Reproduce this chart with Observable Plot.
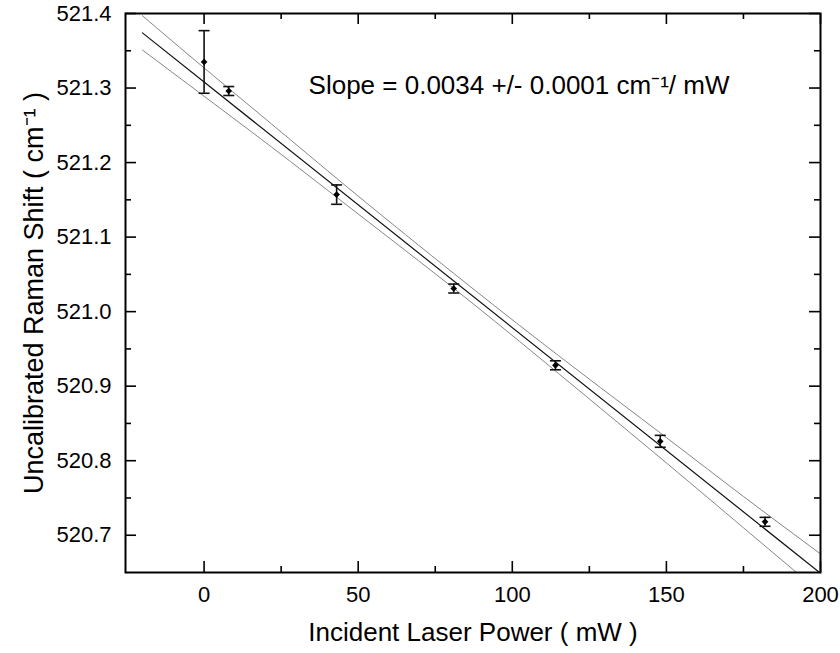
<!DOCTYPE html>
<html>
<head>
<meta charset="utf-8">
<script src="https://cdn.jsdelivr.net/npm/d3@7"></script>
<script src="https://cdn.jsdelivr.net/npm/@observablehq/plot@0.6"></script>
<style>
  html, body { margin: 0; padding: 0; background: #fff; }
  #chart svg { display: block; }
</style>
</head>
<body>
<div id="chart"></div>
<script>
// Measured data: incident laser power (mW), Raman shift (cm^-1), error bar half-height
const powers = [0, 8, 43, 81, 114, 148, 182];
const shifts = [521.335, 521.296, 521.157, 521.031, 520.928, 520.826, 520.718];
const errors = [0.042, 0.006, 0.013, 0.006, 0.006, 0.008, 0.006];

// Linear fit line endpoints
const fitX = [-20, 200];
const fitY = [521.374, 520.649];

// Confidence band
const bandX = [-20, 0, 25, 50, 82, 115, 150, 175, 200];
const upperY = [521.397, 521.327, 521.241, 521.155, 521.048, 520.941, 520.831, 520.752, 520.675];
const lowerY = [521.351, 521.289, 521.211, 521.131, 521.028, 520.917, 520.797, 520.710, 520.623];

// Axis ticks
const xMajor = [0, 50, 100, 150, 200];
const xMinor = [25, 75, 125, 175];
const yMajor = [520.7, 520.8, 520.9, 521.0, 521.1, 521.2, 521.3, 521.4];
const yMinor = [520.75, 520.85, 520.95, 521.05, 521.15, 521.25, 521.35];

const xLabel = "Incident Laser Power ( mW )";
const yLabel = "Uncalibrated Raman Shift ( cm\u207B\u00B9 )";
const slopeLabel = "Slope = 0.0034 +/- 0.0001 cm\u207B\u00B9/ mW";

const points = powers.map((x, i) => ({x, y: shifts[i], e: errors[i]}));
const fit = fitX.map((x, i) => ({x, y: fitY[i]}));
const upper = bandX.map((x, i) => ({x, y: upperY[i]}));
const lower = bandX.map((x, i) => ({x, y: lowerY[i]}));

const capSymbol = {
  draw(context, size) {
    const w = Math.sqrt(size / Math.PI);
    context.moveTo(-w, 0);
    context.lineTo(w, 0);
  }
};

const W = 840, H = 653;
const mL = 125, mR = 20, mT = 13, mB = 81;
const innerH = H - mT - mB;
const innerW = W - mL - mR;
const majorLen = 11, minorLen = 6;

const font = "'Liberation Sans', Arial, Helvetica, sans-serif";

const chart = Plot.plot({
  width: W,
  height: H,
  marginLeft: mL,
  marginRight: mR,
  marginTop: mT,
  marginBottom: mB,
  style: {fontFamily: font, background: "#fff", color: "#000"},
  x: {domain: [-25.5, 200], axis: null},
  y: {domain: [520.65, 521.4], axis: null},
  marks: [
    // confidence band lines
    Plot.line(upper, {x: "x", y: "y", curve: "natural", stroke: "#777", strokeWidth: 0.9, clip: true}),
    Plot.line(lower, {x: "x", y: "y", curve: "natural", stroke: "#777", strokeWidth: 0.9, clip: true}),
    // fit line
    Plot.line(fit, {x: "x", y: "y", stroke: "#111", strokeWidth: 1.2, clip: true}),
    // error bars
    Plot.ruleX(points, {x: "x", y1: d => d.y - d.e, y2: d => d.y + d.e, stroke: "#111", strokeWidth: 1.6}),
    Plot.dot(points, {x: "x", y: d => d.y + d.e, symbol: capSymbol, r: 5.5, stroke: "#111", strokeWidth: 1.6}),
    Plot.dot(points, {x: "x", y: d => d.y - d.e, symbol: capSymbol, r: 5.5, stroke: "#111", strokeWidth: 1.6}),
    // data points
    Plot.dot(points, {x: "x", y: "y", r: 3, fill: "#000", stroke: "none", symbol: "diamond2"}),
    // ticks: bottom & top
    Plot.tickX(xMajor, {x: d => d, insetTop: innerH - majorLen, stroke: "#000", strokeWidth: 1.6}),
    Plot.tickX(xMajor, {x: d => d, insetBottom: innerH - majorLen, stroke: "#000", strokeWidth: 1.6}),
    Plot.tickX(xMinor, {x: d => d, insetTop: innerH - minorLen, stroke: "#000", strokeWidth: 1.6}),
    Plot.tickX(xMinor, {x: d => d, insetBottom: innerH - minorLen, stroke: "#000", strokeWidth: 1.6}),
    // ticks: left & right
    Plot.tickY(yMajor, {y: d => d, insetRight: innerW - majorLen, stroke: "#000", strokeWidth: 1.6}),
    Plot.tickY(yMajor, {y: d => d, insetLeft: innerW - majorLen, stroke: "#000", strokeWidth: 1.6}),
    Plot.tickY(yMinor, {y: d => d, insetRight: innerW - minorLen, stroke: "#000", strokeWidth: 1.6}),
    Plot.tickY(yMinor, {y: d => d, insetLeft: innerW - minorLen, stroke: "#000", strokeWidth: 1.6}),
    // frame
    Plot.frame({stroke: "#000", strokeWidth: 2}),
    // tick labels
    Plot.text(xMajor, {x: d => d, text: d => String(d), frameAnchor: "bottom", dy: 22, lineAnchor: "middle", fontSize: 22, fill: "#000"}),
    Plot.text(yMajor, {y: d => d, text: d => d.toFixed(1), frameAnchor: "left", dx: -14, textAnchor: "end", lineAnchor: "middle", fontSize: 22, fill: "#000"}),
    // axis labels
    Plot.text([xLabel], {text: d => d, frameAnchor: "bottom", dy: 60, textAnchor: "middle", lineAnchor: "middle", fontSize: 26, fill: "#000"}),
    Plot.text([yLabel], {text: d => d, frameAnchor: "left", dx: -91, rotate: -90, textAnchor: "middle", lineAnchor: "middle", fontSize: 27, fill: "#000"}),
    // annotation
    Plot.text([slopeLabel], {x: 33.9, y: 521.303, text: d => d, textAnchor: "start", lineAnchor: "middle", fontSize: 26, fill: "#000"})
  ]
});

document.getElementById("chart").appendChild(chart);
</script>
</body>
</html>
